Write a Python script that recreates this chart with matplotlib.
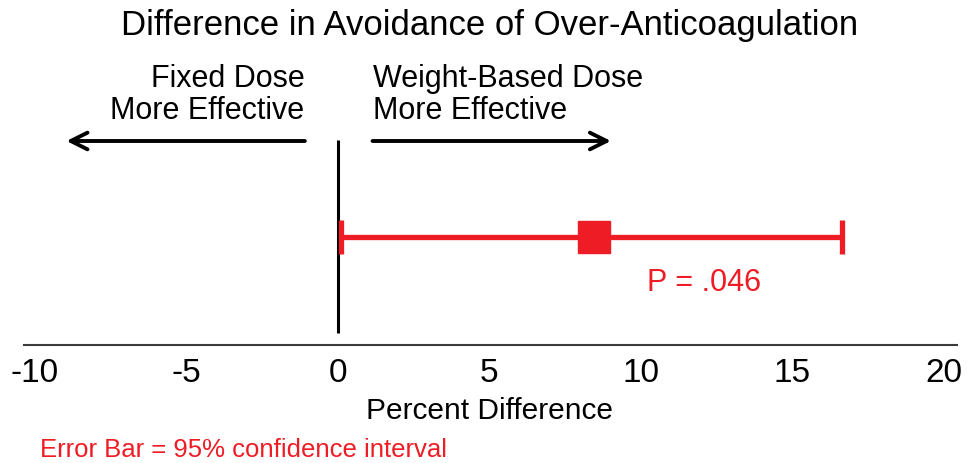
import matplotlib
matplotlib.use("Agg")
import matplotlib.pyplot as plt

# Data
estimate = [8.45]
ci_low = [0.1]
ci_high = [16.65]
p_label = "P = .046"
xticks = [-10, -5, 0, 5, 10, 15, 20]
xticklabels = ["-10", "-5", "0", "5", "10", "15", "20"]

RED = "#EE1C24"
plt.rcParams['font.family'] = ['Liberation Sans', 'DejaVu Sans']

W, H = 967, 463
fig = plt.figure(figsize=(W / 100, H / 100), dpi=100)
ax_left, ax_right, ax_bottom = 24, 957, 345
ax = fig.add_axes([ax_left / W, (H - ax_bottom) / H, (ax_right - ax_left) / W, ax_bottom / H])
ax.set_xlim(-10.36, 20.43)
ax.set_ylim(ax_bottom, 0)  # y in pixel rows from top
for s in ["top", "left", "right"]:
    ax.spines[s].set_visible(False)
ax.spines["bottom"].set_color("#3a3a3a")
ax.spines["bottom"].set_linewidth(1.5)
ax.set_yticks([])
ax.set_xticks(xticks)
ax.set_xticklabels(xticklabels, fontsize=24)
ax.tick_params(axis="x", length=0, pad=9)
ax.patch.set_alpha(0)

# zero line
ax.plot([0, 0], [140, 333], color="black", lw=2.2, solid_capstyle="butt")

# error bar
y = 237
lo = [estimate[0] - ci_low[0]]
hi = [ci_high[0] - estimate[0]]
ax.errorbar(estimate, [y], xerr=[lo, hi], fmt="s", color=RED, ecolor=RED,
            elinewidth=3.8, capsize=12.5, capthick=3.8, markersize=23, zorder=5)
ax.text(10.2, 283, p_label, color=RED, fontsize=22, ha="left", va="center")

# arrows
ax.annotate("", xy=(-9.05, 141), xytext=(-1.0, 141),
            arrowprops=dict(arrowstyle="->", color="black", lw=2.8, mutation_scale=30))
ax.annotate("", xy=(9.1, 141), xytext=(1.05, 141),
            arrowprops=dict(arrowstyle="->", color="black", lw=2.8, mutation_scale=30))
ax.text(-1.1, 95, "Fixed Dose\nMore Effective", ha="right", va="center", fontsize=22,
        linespacing=1.08)
ax.text(1.15, 95, "Weight-Based Dose\nMore Effective", ha="left", va="center", fontsize=22,
        linespacing=1.08)

# title
ax.text(5.0, 25, "Difference in Avoidance of Over-Anticoagulation", ha="center", va="center",
        fontsize=25)

# x label and footnote
fig.text(490 / W, 1 - 411 / H, "Percent Difference", ha="center", va="center", fontsize=21.5)
fig.text(40 / W, 1 - 450 / H, "Error Bar = 95% confidence interval", ha="left", va="center",
         fontsize=18.5, color=RED)

fig.savefig("out.png", dpi=100)
